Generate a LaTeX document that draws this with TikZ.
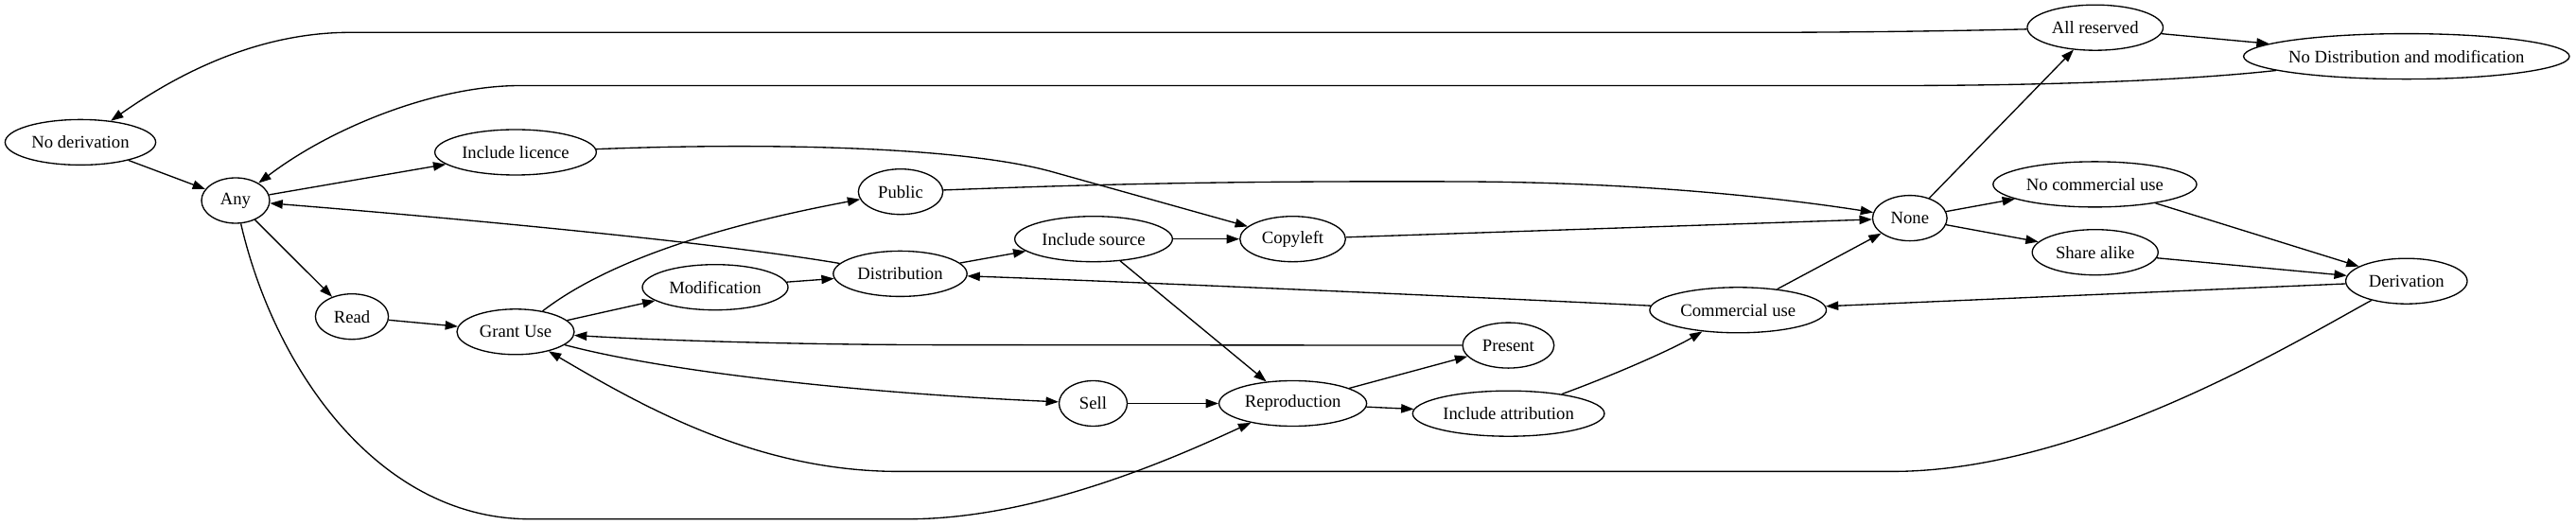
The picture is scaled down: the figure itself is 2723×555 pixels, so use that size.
\documentclass[tikz,border=0pt]{standalone}
\usepackage{fontspec}
\setmainfont{Liberation Serif}
\usetikzlibrary{shapes.geometric,arrows.meta}
\begin{document}
\begin{tikzpicture}[x=0.75pt,y=-0.75pt,
  nd/.style={ellipse, draw, line width=1pt, minimum height=36pt, inner sep=0pt,
             font=\fontsize{14pt}{16pt}\selectfont},
  conn/.style={draw, line width=1pt, -{Triangle[length=10pt,width=7pt]}}]
\useasboundingbox (0,0) rectangle (2723,555);
% nodes
\node[nd, minimum width=119.4pt] (nodr)    at (85,150.4)    {No derivation};
\node[nd, minimum width=54pt]    (any)     at (249,212)     {Any};
\node[nd, minimum width=57.9pt]  (read)    at (372,334.7)   {Read};
\node[nd, minimum width=93pt]    (grant)   at (545,350.8)   {Grant Use};
\node[nd, minimum width=128pt]   (inclic)  at (545,161)     {Include licence};
\node[nd, minimum width=67pt]    (public)  at (952,202.7)   {Public};
\node[nd, minimum width=115.5pt] (modif)   at (756,303.7)   {Modification};
\node[nd, minimum width=106pt]   (distrib) at (951.5,289.4) {Distribution};
\node[nd, minimum width=125pt]   (incsrc)  at (1156,252.7)  {Include source};
\node[nd, minimum width=83.7pt]  (copyl)   at (1366.5,252.7){Copyleft};
\node[nd, minimum width=54pt]    (sell)    at (1155.5,426.5){Sell};
\node[nd, minimum width=117pt]   (repro)   at (1366.6,426.5){Reproduction};
\node[nd, minimum width=72.5pt]  (present) at (1594.4,365.1){Present};
\node[nd, minimum width=152pt]   (incattr) at (1594.6,437.2){Include attribution};
\node[nd, minimum width=140pt]   (comuse)  at (1837.2,327.8){Commercial use};
\node[nd, minimum width=59pt]    (none)    at (2018.8,230.6){None};
\node[nd, minimum width=107.7pt] (allres)  at (2214.7,29.2) {All reserved};
\node[nd, minimum width=161.4pt] (nocom)   at (2214.4,194.9){No commercial use};
\node[nd, minimum width=99.8pt]  (share)   at (2214.7,266.7){Share alike};
\node[nd, minimum width=258.3pt, inner xsep=-2.5pt] (ndm) at (2543.8,59.6) {No Distribution and modification};
\node[nd, minimum width=96.3pt]  (deriv)   at (2543.8,297.2){Derivation};
% connectors
\draw[conn] (allres) .. controls (2050,33) and (1950,34.3) .. (1850,34.3) -- (370,34.3)
            .. controls (270,34.3) and (185,80) .. (nodr);
\draw[conn] (allres) -- (ndm);
\draw[conn] (ndm) .. controls (2300,86) and (2150,90.5) .. (2000,90.5) -- (550,90.5)
            .. controls (460,90.5) and (350,135) .. (any);
\draw[conn] (nodr) -- (any);
\draw[conn] (any) -- (inclic);
\draw[conn] (inclic) .. controls (800,151) and (1010,154) .. (1110,181) -- (copyl);
\draw[conn] (any) -- (read);
\draw[conn] (any) .. controls (290,390) and (400,548.7) .. (560,548.7) -- (960,548.7)
            .. controls (1100,548.7) and (1250,480) .. (repro);
\draw[conn] (read) -- (grant);
\draw[conn] (grant) .. controls (650,270) and (780,235) .. (public);
\draw[conn] (grant) -- (modif);
\draw[conn] (grant) .. controls (700,392) and (900,415) .. (sell);
\draw[conn] (present) -- (1000,364.6) .. controls (850,364.6) and (700,360) .. (grant);
\draw[conn] (deriv) .. controls (2420,365) and (2200,498.4) .. (2000,498.4) -- (950,498.4)
            .. controls (800,498.4) and (680,430) .. (grant);
\draw[conn] (modif) -- (distrib);
\draw[conn] (distrib) .. controls (750,255) and (450,228) .. (any);
\draw[conn] (distrib) -- (incsrc);
\draw[conn] (incsrc) -- (copyl);
\draw[conn] (incsrc) -- (repro);
\draw[conn] (public) .. controls (1150,195) and (1300,191) .. (1550,192)
            .. controls (1750,193) and (1900,212) .. (none);
\draw[conn] (copyl) -- (none);
\draw[conn] (repro) -- (present);
\draw[conn] (repro) -- (incattr);
\draw[conn] (sell) -- (repro);
\draw[conn] (incattr) .. controls (1710,395) and (1770,368) .. (comuse);
\draw[conn] (comuse) .. controls (1600,316) and (1200,298) .. (distrib);
\draw[conn] (comuse) -- (none);
\draw[conn] (deriv) -- (comuse);
\draw[conn] (none) -- (allres);
\draw[conn] (none) -- (nocom);
\draw[conn] (none) -- (share);
\draw[conn] (nocom) -- (deriv);
\draw[conn] (share) -- (deriv);
\end{tikzpicture}
\end{document}
